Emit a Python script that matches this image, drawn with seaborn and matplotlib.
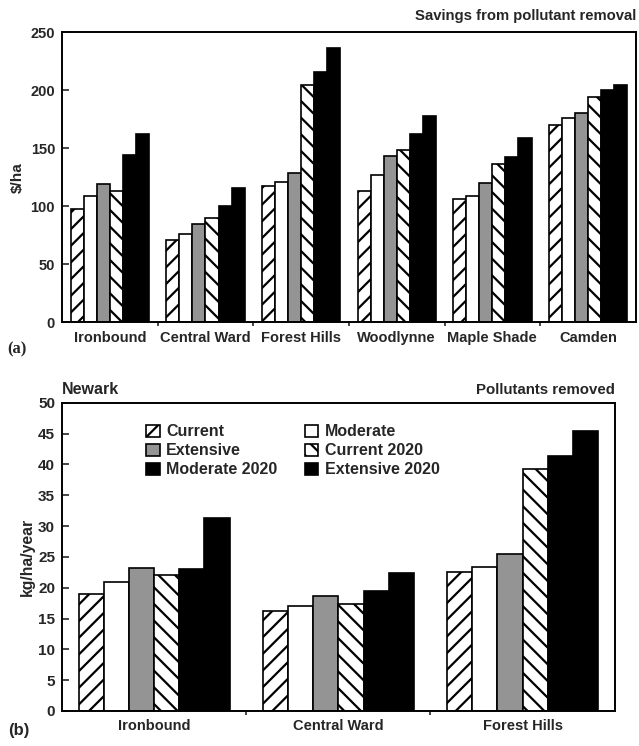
import matplotlib
matplotlib.use("Agg")
import matplotlib.pyplot as plt
import seaborn as sns
import pandas as pd
from matplotlib.patches import Patch

# ---------------- data ----------------
scenarios = ["Current", "Moderate", "Extensive", "Current 2020", "Moderate 2020", "Extensive 2020"]

sites_a = ["Ironbound", "Central Ward", "Forest Hills", "Woodlynne", "Maple Shade", "Camden"]
current_a = [98, 71, 117, 113, 106, 170]
moderate_a = [109, 76, 121, 127, 109, 176]
extensive_a = [119, 85, 129, 143, 120, 180]
current2020_a = [113, 90, 204, 148, 136, 194]
moderate2020_a = [144, 100, 216, 162, 142, 200]
extensive2020_a = [162, 116, 236, 178, 159, 204]

sites_b = ["Ironbound", "Central Ward", "Forest Hills"]
current_b = [19.0, 16.2, 22.6]
moderate_b = [21.0, 17.1, 23.4]
extensive_b = [23.2, 18.7, 25.4]
current2020_b = [22.1, 17.3, 39.2]
moderate2020_b = [23.1, 19.4, 41.4]
extensive2020_b = [31.3, 22.4, 45.4]

yticks_a = [0, 50, 100, 150, 200, 250]
yticks_b = [0, 5, 10, 15, 20, 25, 30, 35, 40, 45, 50]

# ---------------- styles ----------------
colors = {"Current": "white", "Moderate": "white", "Extensive": "#949494",
          "Current 2020": "white", "Moderate 2020": "black", "Extensive 2020": "black"}
hatches = {"Current": "//", "Moderate": "", "Extensive": "", "Current 2020": "\\\\",
           "Moderate 2020": "", "Extensive 2020": ""}

def long_df(sites, series):
    rows = []
    for sc, vals in zip(scenarios, series):
        for s, v in zip(sites, vals):
            rows.append({"site": s, "scenario": sc, "value": v})
    return pd.DataFrame(rows)

df_a = long_df(sites_a, [current_a, moderate_a, extensive_a, current2020_a, moderate2020_a, extensive2020_a])
df_b = long_df(sites_b, [current_b, moderate_b, extensive_b, current2020_b, moderate2020_b, extensive2020_b])

sns.set_style("white")
plt.rcParams["font.family"] = ["Liberation Sans", "DejaVu Sans"]
plt.rcParams["font.weight"] = "bold"
plt.rcParams["hatch.linewidth"] = 1.6

fig = plt.figure(figsize=(6.39, 7.46), dpi=100)
ax1 = fig.add_axes([0.097, 0.568, 0.898, 0.389])
ax2 = fig.add_axes([0.097, 0.047, 0.865, 0.413])


def draw(ax, df, sites):
    sns.barplot(data=df, x="site", y="value", hue="scenario", order=sites,
                hue_order=scenarios, palette=colors, saturation=1, width=0.82,
                gap=0, errorbar=None, edgecolor="black", linewidth=1.2,
                legend=False, ax=ax)
    for sc, cont in zip(scenarios, ax.containers):
        for bar in cont:
            bar.set_hatch(hatches[sc])
    ax.set_xlim(-0.5, len(sites) - 0.5)
    ax.set_xlabel("")
    for sp in ax.spines.values():
        sp.set_visible(True)
        sp.set_color("black")
        sp.set_linewidth(1.4)
    ax.tick_params(axis="x", which="major", length=0, pad=6)
    ax.set_xticks([i + 0.5 for i in range(len(sites) - 1)], minor=True)
    ax.tick_params(axis="x", which="minor", length=3, width=1.2, direction="out", bottom=True)
    ax.tick_params(axis="y", length=5, width=1.2, direction="in", left=True, pad=5)


draw(ax1, df_a, sites_a)
ax1.set_ylim(0, 250)
ax1.set_yticks(yticks_a)
ax1.set_yticklabels([str(t) for t in yticks_a], fontsize=10.5, fontweight="bold")
ax1.set_xticklabels(sites_a, fontsize=10.5, fontweight="bold")
ax1.set_ylabel("$/ha", fontsize=11, fontweight="bold", labelpad=4)
ax1.text(1.0, 1.03, "Savings from pollutant removal", transform=ax1.transAxes,
         ha="right", va="bottom", fontsize=10.7, fontweight="bold")

draw(ax2, df_b, sites_b)
ax2.set_ylim(0, 50)
ax2.set_yticks(yticks_b)
ax2.set_yticklabels([str(t) for t in yticks_b], fontsize=11, fontweight="bold")
ax2.set_xticklabels(sites_b, fontsize=10.5, fontweight="bold")
ax2.set_ylabel("kg/ha/year", fontsize=11.3, fontweight="bold", labelpad=2)
ax2.text(0.0, 1.02, "Newark", transform=ax2.transAxes, ha="left", va="bottom",
         fontsize=11.5, fontweight="bold")
ax2.text(1.0, 1.02, "Pollutants removed", transform=ax2.transAxes, ha="right",
         va="bottom", fontsize=10.8, fontweight="bold")

# legend (column-major order to give row order of reference)
leg_order = ["Current", "Extensive", "Moderate 2020", "Moderate", "Current 2020", "Extensive 2020"]
handles = [Patch(facecolor=colors[s], edgecolor="black", hatch=hatches[s], linewidth=1.2, label=s)
           for s in leg_order]
fig.legend(handles=handles, ncol=2, loc="upper left", bbox_to_anchor=(0.229, 0.431),
           frameon=False, handlelength=0.85, handleheight=0.85,
           handletextpad=0.4, labelspacing=0.25, columnspacing=1.7,
           borderpad=0, borderaxespad=0, prop={"weight": "bold", "size": 11.5})

fig.text(0.012, 0.531, "(a)", family=["Liberation Serif"], fontweight="bold",
         fontsize=12, ha="left", va="center")
fig.text(0.012, 0.021, "(b)", fontweight="bold", fontsize=12, ha="left", va="center")

fig.savefig("out.png", dpi=100)
